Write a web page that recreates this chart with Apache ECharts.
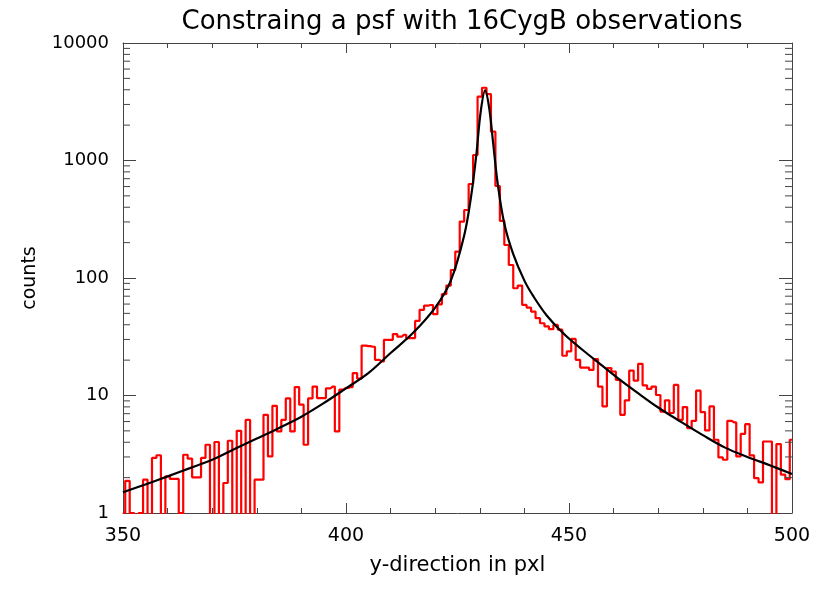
<!DOCTYPE html>
<html><head><meta charset="utf-8">
<script src="https://cdn.jsdelivr.net/npm/echarts@6/dist/echarts.min.js"></script>
<style>html,body{margin:0;padding:0;background:#fff}#c{width:830px;height:593px}</style>
</head><body><div id="c"></div>
<script>
const titleText = 'Constraing a psf with 16CygB observations';
const xTitle = 'y-direction in pxl';
const yTitle = 'counts';

// histogram: one count per pixel bin, bins centred on 350, 351, ... 500
const firstBin = 350;
const counts = [
  1, 1.88, 1, 0, 1, 1.92, 0, 2.94, 3.1, 0,
  2.05, 1.95, 1.95, 1, 3.13, 2.9, 2.01, 2.01, 2.94, 3.81,
  0, 4.02, 0, 1.8, 4.12, 0, 5.0, 0, 6.2, 0,
  1.92, 1.92, 6.85, 3.03, 8.17, 4.95, 6.2, 9.45, 4.95, 11.8,
  8.35, 3.81, 9.45, 11.9, 9.5, 9.5, 11.5, 11.9, 4.95, 11.2,
  11.6, 11.8, 15.5, 13.9, 26.6, 26.3, 26.0, 20.1, 19.5, 29.8,
  29.8, 33.3, 31.7, 32.9, 30.8, 30.8, 43.1, 53.6, 58.3, 58.9,
  49.2, 59.7, 72.8, 86.2, 117, 168, 302, 379, 631, 1114,
  3490, 4160, 3676, 1758, 607, 306, 191, 129, 81.8, 86.2,
  59.0, 56.0, 51.8, 45.5, 41.2, 38.7, 36.7, 39.9, 36.3, 21.8,
  23.7, 30.3, 20.1, 17.3, 17.3, 16.5, 20.4, 11.9, 8.07, 17.1,
  16.0, 13.6, 6.85, 9.08, 16.3, 13.4, 18.6, 12.2, 11.4, 11.9,
  10.1, 7.3, 9.1, 7.1, 12.3, 6.2, 7.97, 5.28, 6.09, 11.0,
  7.22, 5.04, 8.07, 4.2, 2.97, 2.84, 6.09, 5.9, 3.03, 4.72,
  5.7, 3.09, 1.98, 1.82, 4.06, 4.06, 0, 3.86, 2.12, 1.94,
  4.2
];

// fitted psf curve
const fitX = [350, 355, 360, 365, 370, 375, 380, 385, 390, 395, 400, 405, 410, 415, 420,
  423.5, 426.5, 428, 429.2, 430.2, 431.2, 432.1, 433, 434, 435.5, 437.5, 440, 442, 445,
  449, 453, 457, 461, 465, 470, 475, 480, 485, 490, 495, 500];
const fitY = [1.5, 1.75, 2.05, 2.41, 2.84, 3.5, 4.3, 5.3, 6.6, 8.6, 11.5, 15.5, 23, 34, 56,
  95, 230, 480, 1100, 2600, 3950, 2800, 1400, 640, 290, 160, 95, 70, 48,
  33, 24.5, 18.5, 14, 10.8, 7.9, 6.0, 4.6, 3.6, 3.0, 2.55, 2.15];

const xTickValues = [350, 400, 450, 500];
const yTickValues = [1, 10, 100, 1000, 10000];
const yMinorTicks = [2,3,4,5,6,7,8,9, 20,30,40,50,60,70,80,90,
  200,300,400,500,600,700,800,900, 2000,3000,4000,5000,6000,7000,8000,9000];

const belowAxis = 0.05; // empty bins drop out of the log range
const xMin = xTickValues[0], xMax = xTickValues[xTickValues.length - 1];
const yMin = yTickValues[0], yMax = yTickValues[yTickValues.length - 1];

const histData = counts.map((v, i) => [firstBin + i, v > 0 ? v : belowAxis]);
const fitData = fitX.map((x, i) => [x, fitY[i]]);

const axisColor = '#444';
const font = 'DejaVu Sans';

const chart = echarts.init(document.getElementById('c'), null, {renderer: 'canvas'});
const xCommon = {
  type: 'value', min: xMin, max: xMax, interval: 50,
  axisLine: {show: true, onZero: false, lineStyle: {color: axisColor, width: 1}},
  axisTick: {show: true, inside: true, length: 10, lineStyle: {color: axisColor}},
  minorTick: {show: true, splitNumber: 5, length: 5, lineStyle: {color: axisColor}},
  splitLine: {show: false}
};
const yCommon = {
  type: 'log', logBase: 10, min: yMin, max: yMax,
  axisLine: {show: true, onZero: false, lineStyle: {color: axisColor, width: 1}},
  axisTick: {show: true, inside: true, length: 13, lineStyle: {color: axisColor}},
  minorTick: {show: false},
  splitLine: {show: false}
};

chart.setOption({
  animation: false,
  backgroundColor: '#fff',
  title: {
    text: titleText, left: 457, textAlign: 'center', top: 4,
    textStyle: {fontFamily: font, fontSize: 26, fontWeight: 'normal', color: '#000'}
  },
  grid: {left: 123, right: 38, top: 43, bottom: 80},
  xAxis: [
    Object.assign({}, xCommon, {
      position: 'bottom',
      axisLabel: {show: true, fontFamily: font, fontSize: 19, color: '#000', margin: 14,
        formatter: v => String(v)},
      name: xTitle, nameLocation: 'middle', nameGap: 42,
      nameTextStyle: {fontFamily: font, fontSize: 21, color: '#000'}
    }),
    Object.assign({}, xCommon, {position: 'top', axisLabel: {show: false}})
  ],
  yAxis: [
    Object.assign({}, yCommon, {
      position: 'left',
      axisLabel: {show: true, fontFamily: font, fontSize: 18, color: '#000', margin: 14,
        formatter: v => String(v)},
      name: yTitle, nameLocation: 'middle', nameGap: 83, nameRotate: 90,
      nameTextStyle: {fontFamily: font, fontSize: 19, color: '#000'}
    }),
    Object.assign({}, yCommon, {position: 'right', axisLabel: {show: false}})
  ],
  series: [
    {
      type: 'line', name: 'data', xAxisIndex: 0, yAxisIndex: 0,
      data: histData, step: 'middle', symbol: 'none', clip: true,
      lineStyle: {color: '#ff0000', width: 2.2}, z: 3
    },
    {
      type: 'line', name: 'psf', xAxisIndex: 0, yAxisIndex: 0,
      data: fitData, smooth: 0.35, symbol: 'none', clip: true,
      lineStyle: {color: '#000', width: 2.2}, z: 4
    },
    {
      type: 'custom', name: 'minor', xAxisIndex: 0, yAxisIndex: 0, silent: true, clip: false,
      data: yMinorTicks.map(v => [xMin, v]),
      encode: {x: 0, y: 1},
      renderItem: function (params, api) {
        const v = api.value(1);
        const pL = api.coord([xMin, v]);
        const pR = api.coord([xMax, v]);
        return {type: 'group', children: [
          {type: 'line', shape: {x1: pL[0], y1: pL[1], x2: pL[0] + 7, y2: pL[1]},
            style: {stroke: axisColor, lineWidth: 1}},
          {type: 'line', shape: {x1: pR[0], y1: pR[1], x2: pR[0] - 7, y2: pR[1]},
            style: {stroke: axisColor, lineWidth: 1}}
        ]};
      },
      z: 5
    }
  ]
});
</script>
</body></html>
